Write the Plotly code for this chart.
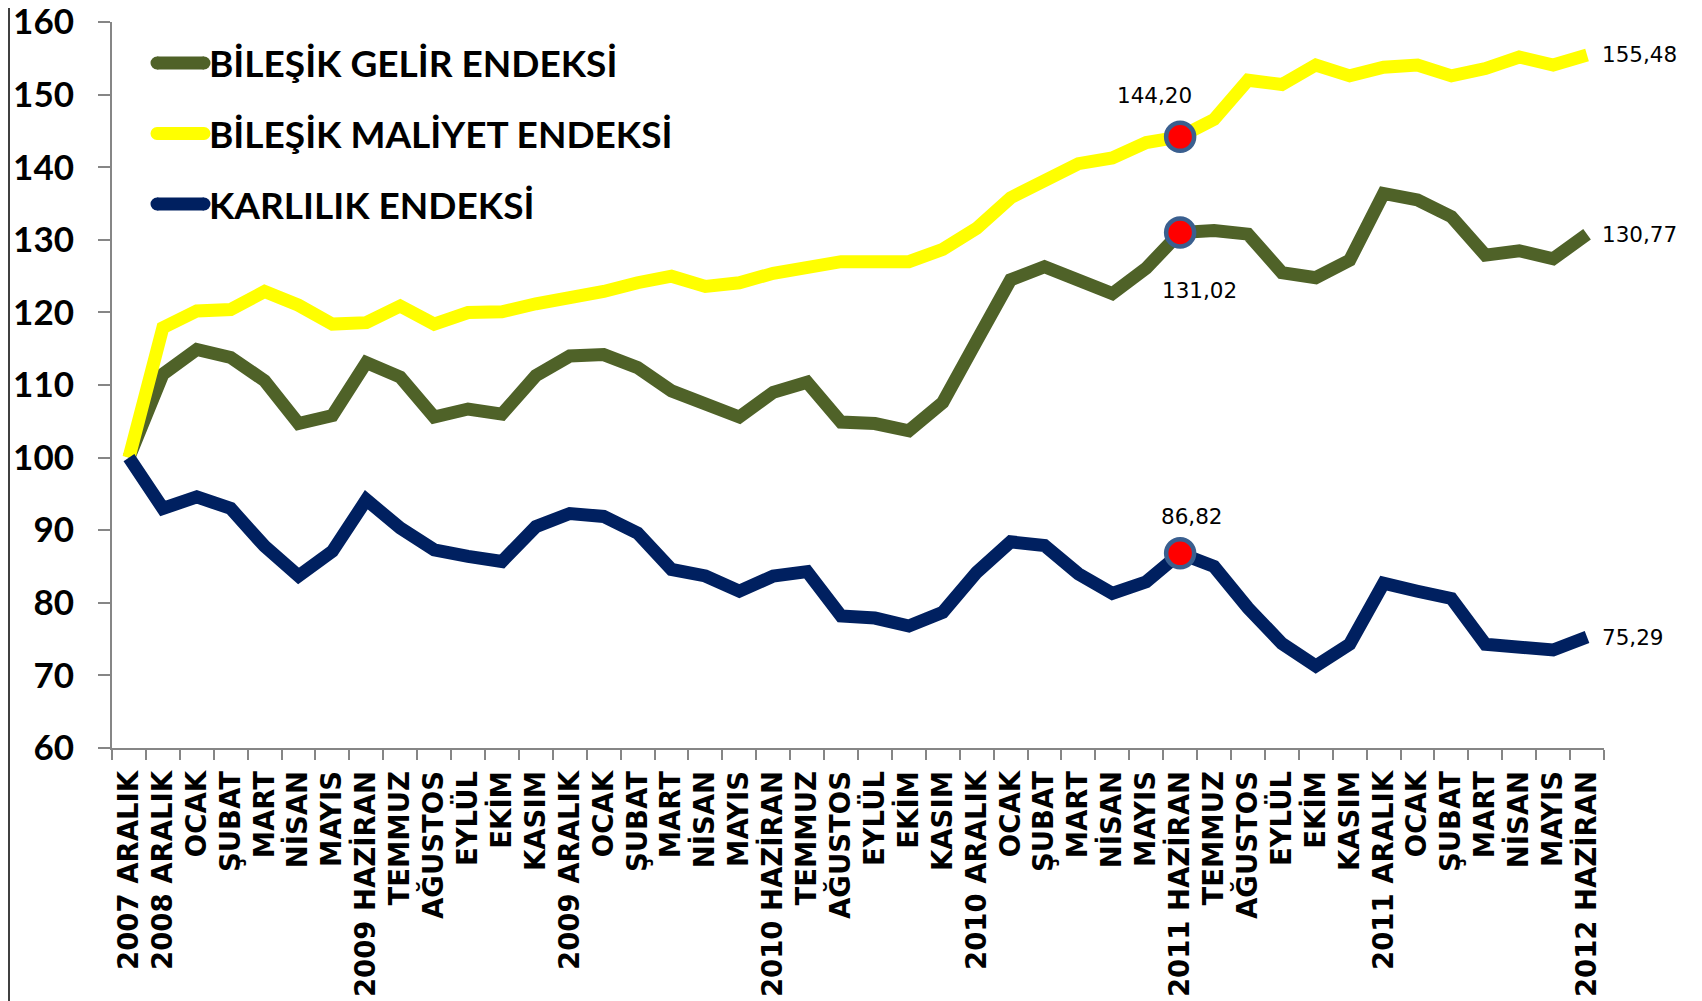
import plotly.graph_objects as go

categories = ["2007 ARALIK", "2008 ARALIK", "OCAK", "ŞUBAT", "MART", "NİSAN", "MAYIS",
              "2009 HAZİRAN", "TEMMUZ", "AĞUSTOS", "EYLÜL", "EKİM", "KASIM",
              "2009 ARALIK", "OCAK", "ŞUBAT", "MART", "NİSAN", "MAYIS",
              "2010 HAZİRAN", "TEMMUZ", "AĞUSTOS", "EYLÜL", "EKİM", "KASIM",
              "2010 ARALIK", "OCAK", "ŞUBAT", "MART", "NİSAN", "MAYIS",
              "2011 HAZİRAN", "TEMMUZ", "AĞUSTOS", "EYLÜL", "EKİM", "KASIM",
              "2011 ARALIK", "OCAK", "ŞUBAT", "MART", "NİSAN", "MAYIS",
              "2012 HAZİRAN"]

gelir = [100, 111.5, 114.9, 113.8, 110.6, 104.7, 105.8, 113.1, 111.1, 105.6, 106.7, 106.0,
         111.3, 114.0, 114.2, 112.4, 109.2, 107.2, 105.6, 109.0, 110.4, 104.9, 104.7, 103.7,
         107.6, 116.1, 124.5, 126.3, 124.5, 122.6, 126.1, 131.02, 131.3, 130.8, 125.5, 124.8,
         127.2, 136.4, 135.5, 133.2, 127.9, 128.5, 127.4, 130.77]

maliyet = [100, 117.9, 120.2, 120.4, 122.9, 121.0, 118.4, 118.6, 120.9, 118.4, 120.0, 120.1,
           121.2, 122.0, 122.9, 124.1, 125.0, 123.6, 124.1, 125.4, 126.3, 127.0, 127.0, 127.0,
           128.7, 131.6, 135.8, 138.2, 140.5, 141.3, 143.4, 144.20, 146.6, 152.0, 151.4, 154.1,
           152.6, 153.8, 154.1, 152.6, 153.6, 155.2, 154.1, 155.48]

karlilik = [100, 93.0, 94.6, 93.0, 87.8, 83.7, 87.1, 94.2, 90.3, 87.3, 86.4, 85.7,
            90.5, 92.3, 91.9, 89.6, 84.6, 83.7, 81.6, 83.7, 84.3, 78.2, 77.9, 76.8,
            78.7, 84.2, 88.4, 87.9, 84.0, 81.3, 82.9, 86.82, 85.0, 79.3, 74.4, 71.3,
            74.3, 82.7, 81.6, 80.6, 74.3, 73.8, 73.5, 75.29]

series_names = ["BİLEŞİK GELİR ENDEKSİ", "BİLEŞİK MALİYET ENDEKSİ", "KARLILIK ENDEKSİ"]
series_colors = ["#4F6228", "#FFFF00", "#002060"]

highlight_index = 31
highlight_labels = ["144,20", "131,02", "86,82"]
end_labels = ["155,48", "130,77", "75,29"]

# page has an 8px body margin; figure sized to fit the 1702x1001 window
W, H = 1694, 993
ML, MR, MT, MB = 104, 98, 14, 253
plot_w = W - ML - MR
plot_h = H - MT - MB


def px_x(p):
    return (p - ML) / plot_w


def px_y(p):
    return 1 - (p - MT) / plot_h


x = list(range(len(categories)))

fig = go.Figure()
for name, vals, col in zip(series_names, [gelir, maliyet, karlilik], series_colors):
    fig.add_trace(go.Scatter(x=x, y=vals, mode="lines", name=name, legendgroup=name,
                             line=dict(color=col, width=13), hoverinfo="skip"))

hx = [highlight_index] * 3
hy = [maliyet[highlight_index], gelir[highlight_index], karlilik[highlight_index]]
fig.add_trace(go.Scatter(x=hx, y=hy, mode="markers", showlegend=False, hoverinfo="skip",
                         marker=dict(size=28, color="#FF0000",
                                     line=dict(color="#3A5F8F", width=4.5))))

label_font = dict(family="DejaVu Sans", size=21.5, color="black")
offsets = [(-26, 41), (19, -57.5), (12, 36.5)]
for (dx, dy), yy, txt in zip(offsets, hy, highlight_labels):
    fig.add_annotation(x=highlight_index, y=yy, text=txt, showarrow=False,
                       xshift=dx, yshift=dy, font=label_font)
last = len(categories) - 1
for vals, txt in zip([maliyet, gelir, karlilik], end_labels):
    fig.add_annotation(x=last, y=vals[last], text=txt, showarrow=False,
                       xanchor="left", xshift=13, font=label_font)

# thick, round-ended legend keys under the legend's own (thinner) line symbols
legend_rows = [55, 125.5, 196]
for row, col in zip(legend_rows, series_colors):
    fig.add_shape(type="line", xref="paper", yref="paper",
                  x0=px_x(149), x1=px_x(196), y0=px_y(row), y1=px_y(row),
                  line=dict(color=col, width=13))
    for cx in (149, 196):
        fig.add_shape(type="circle", xref="paper", yref="paper",
                      x0=px_x(cx - 6.5), x1=px_x(cx + 6.5),
                      y0=px_y(row + 6.5), y1=px_y(row - 6.5),
                      fillcolor=col, line=dict(width=0))

fig.add_shape(type="line", xref="paper", yref="paper",
              x0=px_x(1), x1=px_x(1), y0=-MB / plot_h, y1=1 + MT / plot_h,
              line=dict(color="#404040", width=2))

fig.update_layout(
    template="none",
    width=W, height=H,
    margin=dict(l=ML, r=MR, t=MT, b=MB, autoexpand=False),
    paper_bgcolor="white", plot_bgcolor="white",
    showlegend=True,
    legend=dict(x=px_x(146), y=px_y(23.7), xanchor="left", yanchor="top",
                font=dict(family="Lato", size=37, color="black", weight="bold"),
                itemwidth=45, tracegroupgap=20, bgcolor="rgba(0,0,0,0)", borderwidth=0),
    xaxis=dict(range=[-0.5, last + 0.5], tickmode="array", tickvals=x, ticktext=categories,
               tickangle=-90, ticks="", showgrid=False, zeroline=False, automargin=False,
               showline=True, linecolor="#868686", linewidth=2, ticklabeloverflow="allow",
               tickfont=dict(family="DejaVu Sans", size=27.5, color="black", weight="bold"),
               ticklabelstandoff=10,
               minor=dict(tickmode="array", tickvals=[i - 0.5 for i in range(len(categories) + 1)],
                          ticks="outside", ticklen=10, tickcolor="#868686", tickwidth=1.5,
                          showgrid=False)),
    yaxis=dict(range=[60, 160.02], tickmode="array", tickvals=list(range(60, 161, 10)),
               ticks="outside", ticklen=12, tickcolor="#868686", tickwidth=1.5, automargin=False,
               showgrid=False, zeroline=False, showline=True, linecolor="#868686", linewidth=2,
               ticklabeloverflow="allow",
               tickfont=dict(family="Lato", size=35, color="black", weight="bold"),
               ticklabelstandoff=17),
)

fig.write_html("out.html")
